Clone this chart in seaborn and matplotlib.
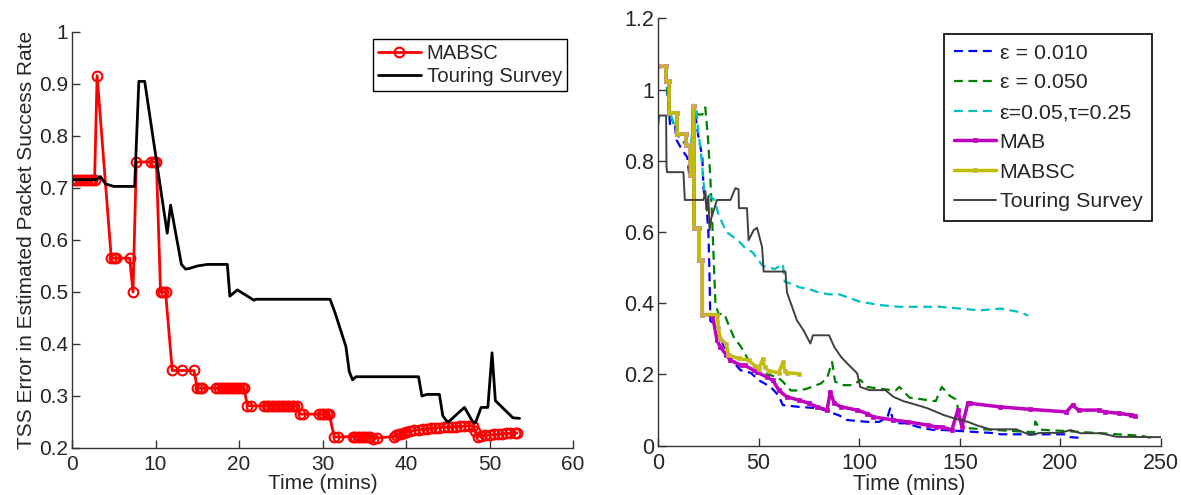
import matplotlib
matplotlib.use("Agg")
import matplotlib.pyplot as plt
import seaborn as sns

# ---- left panel: MABSC vs touring survey ----
mabsc_l_t = [0.0, 0.3, 0.6, 0.9, 1.2, 1.5, 1.8, 2.1, 2.4, 2.7,
             3.0,
             4.7, 5.0, 5.3, 6.9,
             7.3,
             7.7, 9.5, 9.8, 10.1,
             10.6, 10.9, 11.2,
             12.0, 13.2, 14.6,
             15.0, 15.3, 15.6, 17.3, 17.6, 17.9, 18.2, 18.5, 18.8, 19.1, 19.4, 19.7, 20.0, 20.3, 20.6,
             21.0, 21.4, 23.0, 23.3, 23.6, 23.9, 24.2, 24.5, 24.8, 25.1, 25.4, 25.7, 26.0, 26.3, 26.6, 26.9,
             27.3, 27.7, 29.6, 29.9, 30.2, 30.5, 30.8,
             31.4, 31.8, 33.6, 33.9, 34.2, 34.5, 34.8, 35.1, 35.4, 35.7, 36.0, 36.5,
             38.5, 38.8, 39.1, 39.4, 39.7, 40.0, 40.5, 41.0, 41.5, 42.0, 42.5, 43.0, 43.5, 44.0,
             44.5, 45.0, 45.5, 46.0, 46.5, 47.0, 47.5, 48.0,
             48.3, 48.6, 49.0, 49.5, 50.0, 50.5, 51.0, 51.5, 52.0, 52.5, 53.0, 53.3]
mabsc_l_v = [0.716, 0.716, 0.716, 0.716, 0.716, 0.716, 0.716, 0.716, 0.716, 0.716,
             0.916,
             0.565, 0.565, 0.565, 0.565,
             0.5,
             0.75, 0.75, 0.75, 0.75,
             0.5, 0.5, 0.5,
             0.349, 0.349, 0.349,
             0.315, 0.315, 0.315, 0.315, 0.315, 0.315, 0.315, 0.315, 0.315, 0.315, 0.315, 0.315, 0.315, 0.315, 0.315,
             0.281, 0.281, 0.281, 0.281, 0.281, 0.281, 0.281, 0.281, 0.281, 0.281, 0.281, 0.281, 0.281, 0.281, 0.281, 0.281,
             0.265, 0.265, 0.265, 0.265, 0.265, 0.265, 0.265,
             0.221, 0.221, 0.222, 0.222, 0.222, 0.222, 0.222, 0.222, 0.222, 0.222, 0.218, 0.219,
             0.222, 0.224, 0.226, 0.227, 0.229, 0.230, 0.232, 0.234, 0.235, 0.236, 0.237, 0.238, 0.239, 0.239,
             0.240, 0.240, 0.241, 0.241, 0.242, 0.242, 0.243, 0.243,
             0.232, 0.222, 0.223, 0.224, 0.225, 0.226, 0.226, 0.227, 0.228, 0.228, 0.229, 0.229]

tour_l_t = [0, 2.9, 3.4, 4.0, 5.0, 7.5, 8.0, 8.7, 11.4, 11.8,
            13.1, 13.6, 14.0, 15.0, 16.2, 18.6, 18.9, 19.8, 21.8, 22.0,
            30.9, 31.5, 32.8, 33.2, 33.6, 34.0, 41.5, 41.9, 42.5, 44.0,
            44.4, 45.0, 47.0, 48.0, 48.3, 49.0, 49.8, 50.3, 50.7, 52.8, 53.6]
tour_l_v = [0.716, 0.716, 0.722, 0.708, 0.703, 0.703, 0.905, 0.905, 0.613, 0.667,
            0.553, 0.544, 0.545, 0.55, 0.553, 0.553, 0.492, 0.504, 0.484, 0.486,
            0.486, 0.46, 0.395, 0.347, 0.331, 0.337, 0.337, 0.300, 0.303, 0.303,
            0.262, 0.249, 0.278, 0.25, 0.248, 0.278, 0.278, 0.383, 0.291, 0.258, 0.257]

# ---- right panel ----
eps01_t = [0, 4, 4.5, 6, 8.5, 9, 12, 14.5, 15.5, 16.5,
           18, 20, 22, 22.6, 24, 25, 25.5, 26, 29, 32,
           35, 41, 46, 50, 56, 60, 62, 70, 80, 90,
           94, 104, 110, 114, 115.4, 117, 123, 131, 137, 142,
           168, 170, 203, 205, 210]
eps01_v = [1.065, 1.065, 1.0, 0.9, 0.9, 0.86, 0.83, 0.81, 0.76, 0.76,
           0.95, 0.87, 0.81, 0.72, 0.68, 0.6, 0.5, 0.35, 0.34, 0.29,
           0.25, 0.212, 0.205, 0.184, 0.165, 0.14, 0.114, 0.109, 0.105, 0.085,
           0.072, 0.067, 0.067, 0.08, 0.105, 0.063, 0.063, 0.05, 0.044, 0.044,
           0.035, 0.032, 0.032, 0.024, 0.022]

eps05_t = [0, 4, 4.5, 6, 10, 14.5, 16.5, 18, 22, 23.5,
           25, 26, 27, 28.5, 30, 33, 35, 38, 41, 46,
           50, 55, 60, 62, 66, 70, 74, 81, 84, 86.5,
           88, 92, 97, 100.5, 104, 110, 118, 120, 125, 138,
           141, 145, 148, 150, 152, 165, 180, 187, 187.5, 190,
           200, 220, 240, 245]
eps05_v = [1.065, 1.065, 1.0, 0.93, 0.87, 0.84, 0.84, 0.93, 0.93, 0.95,
           0.85, 0.75, 0.62, 0.40, 0.37, 0.37, 0.34, 0.30, 0.28, 0.23,
           0.21, 0.20, 0.19, 0.18, 0.155, 0.155, 0.16, 0.175, 0.19, 0.235,
           0.18, 0.17, 0.17, 0.185, 0.165, 0.16, 0.155, 0.165, 0.135, 0.125,
           0.165, 0.14, 0.13, 0.085, 0.05, 0.045, 0.04, 0.038, 0.068, 0.045,
           0.042, 0.035, 0.028, 0.022]

tau_t = [0, 4, 4.5, 6, 10, 14.5, 16.5, 17.5, 19, 20,
         21, 22, 23, 28, 30, 34, 40, 43, 47, 52,
         58, 62, 63, 67, 70, 75, 80, 85, 90, 95,
         100, 105, 110, 120, 130, 140, 150, 160, 170, 175,
         180, 184]
tau_v = [1.065, 1.065, 1.02, 0.935, 0.87, 0.84, 0.84, 0.955, 0.95, 0.88,
         0.84, 0.78, 0.715, 0.69, 0.65, 0.60, 0.575, 0.557, 0.543, 0.505,
         0.496, 0.51, 0.46, 0.454, 0.445, 0.44, 0.43, 0.425, 0.425, 0.415,
         0.405, 0.40, 0.395, 0.39, 0.39, 0.39, 0.385, 0.38, 0.385, 0.38,
         0.375, 0.365]

mab_t = [0, 4, 4, 5.5, 5.5, 9.5, 9.5, 14, 14, 16,
         16, 17.2, 17.4, 17.8, 17.8, 20.5, 20.5, 22, 22, 27,
         29.3, 31, 34, 36, 41, 43, 47.5, 49, 54, 57,
         60, 64, 70, 75, 79, 84, 85.6, 87.6, 91, 99,
         104, 107, 117, 124, 134, 138, 141, 146, 149, 151,
         154, 155, 170, 185, 203, 206, 209, 219, 222, 229,
         235, 237]
mab_v = [1.065, 1.065, 1.025, 1.025, 0.935, 0.935, 0.875, 0.875, 0.845, 0.845,
         0.76, 0.76, 0.955, 0.955, 0.61, 0.61, 0.52, 0.52, 0.368, 0.368,
         0.296, 0.277, 0.254, 0.24, 0.226, 0.226, 0.212, 0.207, 0.193, 0.184,
         0.156, 0.137, 0.128, 0.119, 0.109, 0.10, 0.151, 0.119, 0.109, 0.10,
         0.09, 0.081, 0.072, 0.067, 0.058, 0.053, 0.053, 0.044, 0.10, 0.053,
         0.119, 0.119, 0.109, 0.102, 0.095, 0.114, 0.10, 0.10, 0.095, 0.091,
         0.086, 0.084]

mabsc_t = [0, 4, 4, 5.5, 5.5, 9.5, 9.5, 14, 14, 16,
           16, 17.2, 17.4, 17.8, 17.8, 20.5, 20.5, 22, 22, 29.5,
           30, 31, 34, 35, 40, 45, 48, 50, 52, 53,
           55, 60, 62, 63, 64, 70]
mabsc_v = [1.065, 1.065, 1.025, 1.025, 0.935, 0.935, 0.875, 0.875, 0.845, 0.845,
           0.76, 0.76, 0.955, 0.955, 0.61, 0.61, 0.52, 0.52, 0.368, 0.368,
           0.33, 0.30, 0.285, 0.255, 0.245, 0.24, 0.225, 0.215, 0.243, 0.22,
           0.21, 0.205, 0.234, 0.21, 0.205, 0.202]

tour_t = [0, 0, 0.5, 4, 4.2, 4.5, 12.6, 13.3, 22.6, 23.5,
          24.2, 25, 25.6, 26.5, 29.3, 36, 38.4, 40, 40.2, 44.2,
          45, 47.5, 49.2, 51.7, 52.5, 63.3, 64.1, 69, 72.3, 75.7,
          77, 85, 87.6, 91, 94, 99, 100.5, 105, 113, 117,
          122, 130, 134, 142, 147, 154, 158, 165, 178, 185,
          190, 200, 205, 210, 220, 228, 250]
tour_v = [1.2, 0.9, 0.927, 0.927, 0.783, 0.768, 0.768, 0.69, 0.69, 0.715,
          0.66, 0.70, 0.605, 0.64, 0.69, 0.69, 0.723, 0.72, 0.667, 0.667,
          0.577, 0.605, 0.612, 0.558, 0.489, 0.489, 0.43, 0.352, 0.324, 0.287,
          0.31, 0.31, 0.277, 0.249, 0.231, 0.203, 0.165, 0.156, 0.156, 0.137,
          0.125, 0.112, 0.105, 0.086, 0.077, 0.067, 0.058, 0.046, 0.046, 0.03,
          0.036, 0.036, 0.044, 0.035, 0.035, 0.025, 0.024]

left_yticks = [0.2, 0.3, 0.4, 0.5, 0.6, 0.7, 0.8, 0.9, 1.0]
left_ylabels = ["0.2", "0.3", "0.4", "0.5", "0.6", "0.7", "0.8", "0.9", "1"]
left_xticks = [0, 10, 20, 30, 40, 50, 60]
right_yticks = [0, 0.2, 0.4, 0.6, 0.8, 1.0, 1.2]
right_ylabels = ["0", "0.2", "0.4", "0.6", "0.8", "1", "1.2"]
right_xticks = [0, 50, 100, 150, 200, 250]

sns.set_style("white", {'xtick.bottom': True, 'ytick.left': True})
plt.rcParams['font.family'] = ['Liberation Sans', 'DejaVu Sans']
plt.rcParams['xtick.direction'] = 'in'
plt.rcParams['ytick.direction'] = 'in'
plt.rcParams['xtick.major.size'] = 6
plt.rcParams['ytick.major.size'] = 6
plt.rcParams['xtick.major.width'] = 1.0
plt.rcParams['ytick.major.width'] = 1.0

fig = plt.figure(figsize=(11.81, 4.95), dpi=100)
ax1 = fig.add_axes([0.061, 0.095, 0.4242, 0.8404])
ax2 = fig.add_axes([0.5572, 0.0996, 0.4259, 0.8634])

sns.lineplot(x=mabsc_l_t, y=mabsc_l_v, estimator=None, sort=False, ax=ax1,
             color='#ff0000', lw=2, marker='o', markersize=7,
             markerfacecolor='none', markeredgecolor='#ff0000', markeredgewidth=1.5,
             label='MABSC')
sns.lineplot(x=tour_l_t, y=tour_l_v, estimator=None, sort=False, ax=ax1,
             color='black', lw=2, label='Touring Survey')

sns.lineplot(x=eps01_t, y=eps01_v, estimator=None, sort=False, ax=ax2,
             color='#0000ff', lw=1.6, label='ε = 0.010')
sns.lineplot(x=eps05_t, y=eps05_v, estimator=None, sort=False, ax=ax2,
             color='#008000', lw=1.6, label='ε = 0.050')
sns.lineplot(x=tau_t, y=tau_v, estimator=None, sort=False, ax=ax2,
             color='#00bfbf', lw=1.6, label='ε=0.05,τ=0.25')
sns.lineplot(x=mab_t, y=mab_v, estimator=None, sort=False, ax=ax2,
             color='#bf00bf', lw=2.5, marker='s', markersize=3.5,
             markeredgecolor='#bf00bf', markeredgewidth=0.5, label='MAB')
sns.lineplot(x=mabsc_t, y=mabsc_v, estimator=None, sort=False, ax=ax2,
             color='#bfbf00', lw=2.5, marker='s', markersize=3.5,
             markeredgecolor='#d8a0a0', markeredgewidth=0.5, label='MABSC')
sns.lineplot(x=tour_t, y=tour_v, estimator=None, sort=False, ax=ax2,
             color='#404040', lw=1.4, label='Touring Survey')

# dashed curves, matlab style
for ln in ax2.get_lines()[:3]:
    ln.set_linestyle((0, (4, 2.5)))

ax1.set_xlim(0, 60)
ax1.set_ylim(0.2, 1.0)
ax1.set_xticks(left_xticks)
ax1.set_yticks(left_yticks)
ax1.set_yticklabels(left_ylabels)
ax1.set_xlabel("Time (mins)", fontsize=15, labelpad=0)
ax1.set_ylabel("TSS Error in Estimated Packet Success Rate", fontsize=15, labelpad=2)

ax2.set_xlim(0, 250)
ax2.set_ylim(0, 1.2)
ax2.set_xticks(right_xticks)
ax2.set_yticks(right_yticks)
ax2.set_yticklabels(right_ylabels)
ax2.set_xlabel("Time (mins)", fontsize=15.5, labelpad=0)

for ax, fs in ((ax1, 15), (ax2, 15.5)):
    sns.despine(ax=ax)
    for s in ('left', 'bottom'):
        ax.spines[s].set_color('#333333')
        ax.spines[s].set_linewidth(1.0)
    ax.tick_params(bottom=True, left=True, labelsize=fs, length=6, width=1.0,
                   color='#333333', direction='in')
    ax.tick_params(axis='x', pad=5)
    ax.tick_params(axis='y', pad=3)

leg1 = ax1.legend(loc='upper right', bbox_to_anchor=(0.988, 0.983), borderaxespad=0,
                  fontsize=14.6, fancybox=False, framealpha=1, edgecolor='black',
                  handlelength=2.1, handletextpad=0.3, labelspacing=0.2, borderpad=0.25)
leg1.get_frame().set_linewidth(1.0)
leg2 = ax2.legend(loc='upper right', bbox_to_anchor=(0.982, 0.963), borderaxespad=0,
                  fontsize=15.4, fancybox=False, framealpha=1, edgecolor='black',
                  handlelength=2.0, handletextpad=0.15, labelspacing=0.5, borderpad=0.45)
leg2.get_frame().set_linewidth(1.2)

fig.savefig("out.png", dpi=100)
